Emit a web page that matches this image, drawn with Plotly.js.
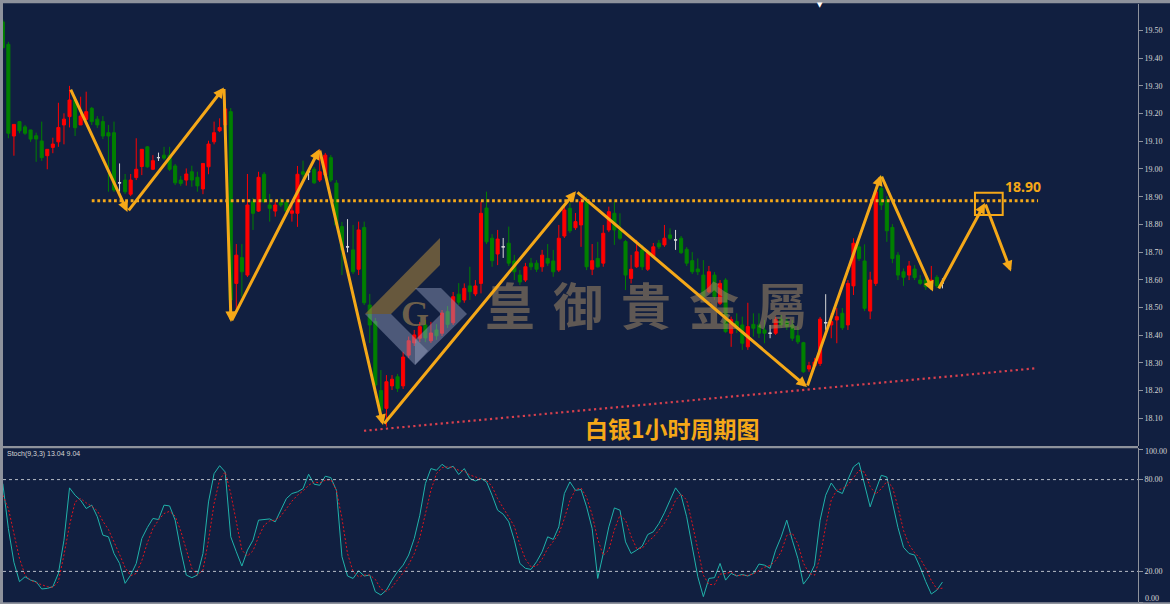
<!DOCTYPE html>
<html><head><meta charset="utf-8">
<script src="https://cdn.plot.ly/plotly-3.0.1.min.js"></script>
<style>html,body{margin:0;padding:0;background:#111f40;overflow:hidden}#chart{width:1170px;height:604px}</style>
</head><body><div id="chart"></div>
<script>
// ---------- DATA (silver, 1 hour bars) ----------
const openP = [19.531,19.450,19.119,19.171,19.152,19.141,19.120,19.101,19.048,19.078,19.098,19.159,19.189,19.249,19.159,19.179,19.219,19.180,19.171,19.131,
19.131,18.950,18.960,18.909,18.969,19.009,19.080,18.999,19.041,19.050,19.050,19.011,18.960,18.960,18.990,18.970,18.928,19.008,19.098,19.138,
19.159,19.207,18.587,18.680,18.617,18.882,18.848,18.981,18.870,18.848,18.880,18.880,18.840,18.840,18.990,18.990,18.999,18.960,18.978,19.041,
18.949,18.792,18.719,18.708,18.638,18.789,18.509,18.449,18.200,18.136,18.217,18.250,18.217,18.328,18.372,18.389,18.437,18.380,18.419,18.407,
18.485,18.445,18.548,18.527,18.578,18.549,18.587,18.859,18.750,18.693,18.719,18.732,18.668,18.617,18.599,18.660,18.660,18.647,18.677,18.668,
18.635,18.758,18.858,18.788,18.798,18.882,18.638,18.677,18.660,18.780,18.840,18.780,18.738,18.605,18.647,18.708,18.638,18.683,18.732,18.726,
18.762,18.744,18.750,18.710,18.669,18.639,18.617,18.557,18.617,18.515,18.599,18.407,18.449,18.437,18.358,18.439,18.437,18.419,18.407,18.407,
18.457,18.449,18.437,18.398,18.373,18.278,18.289,18.298,18.445,18.437,18.455,18.479,18.437,18.578,18.719,18.668,18.487,18.587,18.930,18.888,
18.789,18.689,18.629,18.617,18.639,18.599,18.599,18.587,18.609,18.589];
const highP = [19.540,19.459,19.161,19.172,19.159,19.141,19.131,19.171,19.071,19.113,19.239,19.201,19.300,19.261,19.261,19.279,19.224,19.191,19.191,19.159,
19.171,19.020,18.982,18.982,19.111,19.072,19.083,19.050,19.059,19.080,19.080,19.018,18.975,19.002,19.012,18.990,19.020,19.102,19.171,19.183,
19.249,19.220,18.729,18.729,18.982,18.895,18.990,18.989,18.910,18.881,18.894,18.888,18.870,19.011,19.030,18.996,19.007,19.071,19.058,19.050,
18.960,18.809,18.819,18.798,18.810,18.810,18.549,18.462,18.274,18.256,18.256,18.260,18.340,18.395,18.419,18.448,18.455,18.448,18.440,18.491,
18.505,18.556,18.588,18.587,18.647,18.599,18.882,18.918,18.765,18.780,18.751,18.792,18.690,18.635,18.661,18.679,18.671,18.708,18.729,18.708,
18.798,18.870,18.877,18.841,18.895,18.900,18.729,18.737,18.798,18.864,18.882,18.840,18.744,18.690,18.744,18.726,18.708,18.733,18.744,18.798,
18.786,18.780,18.758,18.718,18.700,18.677,18.671,18.650,18.628,18.599,18.606,18.467,18.479,18.467,18.517,18.479,18.479,18.455,18.437,18.467,
18.473,18.462,18.455,18.431,18.376,18.304,18.318,18.466,18.548,18.480,18.498,18.498,18.599,18.750,18.737,18.728,18.629,18.931,18.975,18.902,
18.801,18.700,18.641,18.668,18.653,18.617,18.617,18.650,18.617,18.605];
const lowP = [19.435,19.111,19.048,19.129,19.123,19.098,19.026,19.029,18.999,19.057,19.080,19.089,19.150,19.119,19.159,19.177,19.159,19.148,19.108,18.918,
18.917,18.918,18.910,18.902,18.960,18.978,19.004,18.996,19.029,19.032,18.993,18.942,18.939,18.940,18.936,18.918,18.909,18.981,19.089,19.133,
19.148,18.462,18.491,18.539,18.610,18.780,18.845,18.877,18.810,18.828,18.863,18.841,18.810,18.791,18.967,18.960,18.946,18.953,18.967,18.953,
18.787,18.617,18.699,18.621,18.617,18.509,18.372,18.205,18.101,18.070,18.202,18.195,18.206,18.318,18.361,18.375,18.375,18.372,18.383,18.397,
18.426,18.437,18.509,18.517,18.527,18.541,18.551,18.729,18.647,18.653,18.679,18.650,18.599,18.581,18.592,18.635,18.628,18.629,18.650,18.611,
18.628,18.751,18.769,18.780,18.719,18.635,18.617,18.643,18.647,18.772,18.726,18.744,18.563,18.587,18.643,18.635,18.632,18.679,18.711,18.719,
18.744,18.708,18.693,18.650,18.621,18.617,18.534,18.552,18.527,18.509,18.408,18.358,18.408,18.347,18.347,18.395,18.390,18.371,18.389,18.401,
18.426,18.419,18.379,18.368,18.264,18.268,18.282,18.289,18.419,18.389,18.371,18.419,18.419,18.545,18.668,18.487,18.458,18.578,18.852,18.737,
18.660,18.599,18.578,18.599,18.599,18.581,18.563,18.563,18.570,18.569];
const closeP = [19.438,19.129,19.161,19.138,19.129,19.108,19.108,19.041,19.071,19.090,19.150,19.180,19.249,19.149,19.191,19.207,19.171,19.159,19.119,19.119,
18.924,18.950,18.918,18.960,18.999,19.071,19.008,19.030,19.041,19.039,18.999,18.950,18.948,18.982,18.960,18.939,19.020,19.090,19.131,19.150,
19.217,18.527,18.689,18.629,18.870,18.840,18.970,18.882,18.858,18.870,18.870,18.848,18.849,18.981,18.981,18.990,18.950,18.990,19.050,18.960,
18.798,18.708,18.719,18.629,18.780,18.517,18.437,18.220,18.130,18.232,18.241,18.208,18.321,18.380,18.401,18.431,18.390,18.408,18.398,18.480,
18.439,18.539,18.519,18.569,18.557,18.578,18.840,18.737,18.669,18.747,18.719,18.660,18.629,18.592,18.647,18.647,18.638,18.689,18.660,18.629,
18.750,18.852,18.777,18.810,18.882,18.647,18.669,18.647,18.768,18.846,18.780,18.750,18.617,18.638,18.701,18.647,18.696,18.719,18.719,18.750,
18.750,18.744,18.698,18.660,18.629,18.629,18.539,18.629,18.539,18.587,18.413,18.457,18.425,18.371,18.431,18.425,18.407,18.407,18.407,18.457,
18.437,18.431,18.389,18.376,18.268,18.290,18.303,18.458,18.445,18.449,18.467,18.427,18.587,18.732,18.677,18.497,18.599,18.918,18.870,18.777,
18.677,18.617,18.609,18.650,18.608,18.587,18.575,18.599,18.578,18.589];
// Stochastic (9,3,3): %K main line and %D signal line
const stochK = [77.4,48,26,13.3,16.5,14.3,13.3,8.5,8.9,10,18.7,40.4,74.6,69.8,66.5,61.1,63.3,55.7,43.7,42.6,
31.7,25.2,12.2,17.6,25.2,41.5,48.7,54.6,53.9,63.3,62.8,53.5,33.9,17.6,15.9,17.6,31.7,65.4,83.9,89.1,
85,42.6,32.8,23.5,33.9,40.4,53.5,54.1,54.3,52.4,60,67.6,70.9,72,74.1,83.5,77,76.3,82.2,81.3,
73,29.6,17,15.4,20.4,17,17.6,6.7,4.6,7.8,14.3,19.8,24.1,30.7,41.5,56.7,77.4,87.2,86.1,90,
87.2,88.7,83.3,87.2,80.7,79.1,80.7,78.5,69.8,60,57.4,52.4,40.4,25.2,22,21.3,26.3,32.8,42.6,40.9,
49.1,70.9,78.5,73,73.5,62.2,48,15.4,31.7,49.1,61.5,60,39.3,31.7,33.9,36.5,44.1,45.9,51.3,58.3,
66.5,74.6,69.8,55.7,36.1,16.5,3.5,15.4,15.9,25.2,14.3,18.7,17,18,17,18.7,24.8,24.1,22,33.9,
42.6,53.5,40.4,28.5,11.7,16.5,24.1,53.5,69.8,77.8,72.6,70.9,80,88.3,91.1,77.4,62.2,73,82.8,81.7,
65.4,48.7,35.7,31.7,30.7,22.6,13.3,5.2,7.8,13.04];
const stochD = [69.8,61.1,44.8,28.5,17.6,14.3,12.6,11.1,10,9.6,13.3,30.7,50.2,65.4,67.6,64.8,62.6,59.6,52.8,47.4,
39.8,31.1,22.4,17.2,18.7,27,38.7,48,53.5,57.8,59.3,56.1,46.5,33.5,22,17.6,20.9,40.4,64.3,80,
85,70.9,51.3,33.9,30,33.5,42.6,50.2,53,53.5,56.1,61.1,65.9,69.8,72.6,76.3,78.5,77.8,79.6,80,
73,54.6,31.7,19.8,16.5,17.6,17.6,14.8,8.5,7,9.5,14.5,19,24.5,31.5,42,56.7,73,83.9,87.8,
88.3,88,86.1,85.5,83,81.5,80.5,79.5,75.5,67.5,61.5,56,49.5,37.5,28,23,23.5,28,35,39.5,
44.5,54.5,66.3,73.5,74.5,68.5,57,41,30.5,34,47.2,56.8,53.5,43,35,35,39.5,42.4,47,51.5,
58.2,66.5,70.6,66.6,51.5,34,17.5,11.5,11.3,18.2,18.6,19.6,17.2,17.5,17.4,18.3,20.5,22.8,23.8,27,
32.8,43.5,45,38,25.5,18.8,17.5,29.5,49.6,66.7,73.2,74,76.5,81.3,86,84.8,75.5,70.5,74,78.8,
75.3,62,46.8,37.4,32.2,28.4,22.1,14,8.5,9.04];
const priceTicks = [18.10,18.20,18.30,18.40,18.50,18.60,18.70,18.80,18.90,19.00,19.10,19.20,19.30,19.40,19.50];
const stochTicks = [0,20,80,100];
const stochLevels = [20,80];
const timeTicks = [8,16,24,32,40,48,56,64,72,80,88,96,104,112,120,128,136,144,152,160,168,176,184,192,200];
// hand-drawn analysis (bar index, price)
const resistancePrice = 18.885, resistanceLabel = '18.90';
const resistanceFrom = 16.0, resistanceTo = 186.2;
const supportIdx = [64.96, 186.1], supportPrice = [18.055, 18.281];
const zigIdx   = [12.09, 22.43, 39.78, 41.04, 56.96, 68.38, 103.09, 144.64, 157.95, 167.30, null, 168.2, 176.65, 181.33];
const zigPrice = [19.292, 18.845, 19.294, 18.448, 19.072, 18.076, 18.920, 18.213, 18.978, 18.558, null, 18.563, 18.877, 18.630];
const targetBoxIdx = [174.85, 179.84], targetBoxPrice = [18.834, 18.914];
const chartTitle = '白银1小时周期图';
const watermarkChars = ['皇','御','貴','金','屬'];

// ---------- STYLE ----------
const BG = '#111f40', UP = '#ff0000', DOWN = '#008000', DOJI = '#d8d8d8';
const ORANGE = '#f5a818', FRAME = '#8e929c', TXT = '#d6d6d6';
const L = 3, R = 1138, T = 4, B = 602;
const px = v => (v - L) / (R - L);
const py = v => (B - v) / (B - T);
const xr = [(L - 2.8) / 5.56, (R - 2.8) / 5.56];

const idx = closeP.map((_, i) => i);
function pick(cond) {
  const s = {x: [], open: [], high: [], low: [], close: []};
  idx.forEach(i => { if (cond(openP[i], closeP[i])) {
    s.x.push(i); s.open.push(openP[i]); s.high.push(highP[i]); s.low.push(lowP[i]); s.close.push(closeP[i]); }});
  return s;
}
function candle(s, col) {
  return Object.assign({type: 'candlestick', xaxis: 'x', yaxis: 'y', hoverinfo: 'skip', whiskerwidth: 0,
    increasing: {line: {color: col, width: 1}, fillcolor: col},
    decreasing: {line: {color: col, width: 1}, fillcolor: col}}, s);
}
const traces = [
  candle(pick((o, c) => c > o), UP),
  candle(pick((o, c) => c < o), DOWN),
  candle(pick((o, c) => c === o), DOJI),
  {type: 'scatter', mode: 'lines', x: idx, y: stochK, xaxis: 'x2', yaxis: 'y2', hoverinfo: 'skip',
   line: {color: '#20b2aa', width: 1}},
  {type: 'scatter', mode: 'lines', x: idx, y: stochD, xaxis: 'x2', yaxis: 'y2', hoverinfo: 'skip',
   line: {color: '#e0141e', width: 1, dash: '2px,2px'}}
];

function poly(pts) { return 'M' + pts.map(p => px(p[0]) + ',' + py(p[1])).join('L') + 'Z'; }
const shapes = [
  // frame
  {type: 'rect', xref: 'paper', yref: 'paper', x0: px(0), x1: px(1170), y0: py(0), y1: py(3.2), fillcolor: FRAME, line: {width: 0}},
  {type: 'rect', xref: 'paper', yref: 'paper', x0: px(0), x1: px(3), y0: py(0), y1: py(604), fillcolor: FRAME, line: {width: 0}},
  {type: 'rect', xref: 'paper', yref: 'paper', x0: px(0), x1: px(1138), y0: py(446), y1: py(448.3), fillcolor: FRAME, line: {width: 0}},
  {type: 'rect', xref: 'paper', yref: 'paper', x0: px(0), x1: px(1170), y0: py(602.3), y1: py(604), fillcolor: FRAME, line: {width: 0}},
  // stochastic levels
  ...stochLevels.map(v => ({type: 'line', xref: 'paper', yref: 'y2', x0: 0, x1: 1, y0: v, y1: v,
    line: {color: '#b8bcc6', width: 1, dash: '3px,3px'}})),
  // resistance 18.90
  {type: 'line', xref: 'x', yref: 'y', x0: resistanceFrom, x1: resistanceTo, y0: resistancePrice, y1: resistancePrice,
   line: {color: ORANGE, width: 3, dash: '2.8px,2.76px'}},
  // rising support
  {type: 'line', xref: 'x', yref: 'y', x0: supportIdx[0], x1: supportIdx[1], y0: supportPrice[0], y1: supportPrice[1],
   line: {color: '#d8404e', width: 2.2, dash: '2.2px,3.3px'}},
  // target box
  {type: 'rect', xref: 'x', yref: 'y', x0: targetBoxIdx[0], x1: targetBoxIdx[1], y0: targetBoxPrice[0], y1: targetBoxPrice[1],
   line: {color: ORANGE, width: 2}},
  // logo
  {type: 'path', xref: 'paper', yref: 'paper', path: poly([[440,238],[440,265],[391,314],[365,314]]),
   fillcolor: 'rgba(150,120,60,0.65)', line: {width: 0}},
  {type: 'path', xref: 'paper', yref: 'paper', path: poly([[365,314],[391,314],[428,351],[415,365]]),
   fillcolor: 'rgba(150,160,190,0.45)', line: {width: 0}},
  {type: 'path', xref: 'paper', yref: 'paper', path: poly([[415,288],[441,288],[467,314],[415,365],[415,340],[441,314]]),
   fillcolor: 'rgba(150,160,190,0.45)', line: {width: 0}}
];

const annotations = [];
watermarkChars.forEach((ch, k) => annotations.push({xref: 'paper', yref: 'paper', x: px(510 + k * 68), y: py(303),
  text: ch, showarrow: false, xanchor: 'center', yanchor: 'middle',
  font: {family: 'Noto Sans CJK TC', size: 50, weight: 700, color: 'rgba(160,135,100,0.55)'}}));
annotations.push({xref: 'paper', yref: 'paper', x: px(415), y: py(314), text: '<b>G</b>', showarrow: false,
  xanchor: 'center', yanchor: 'middle', font: {family: 'Liberation Serif', size: 36, color: 'rgba(150,125,80,0.7)'}});
for (let k = 1; k < zigIdx.length; k++) {
  if (zigIdx[k] == null || zigIdx[k - 1] == null) continue;
  annotations.push({xref: 'x', yref: 'y', axref: 'x', ayref: 'y', x: zigIdx[k], y: zigPrice[k],
    ax: zigIdx[k - 1], ay: zigPrice[k - 1], text: '', showarrow: true, arrowhead: 2, arrowsize: 0.7,
    arrowwidth: 3, arrowcolor: ORANGE, standoff: 0, startstandoff: 0});
}
annotations.push({xref: 'x', yref: 'y', x: 183.5, y: 18.935, text: '<b>' + resistanceLabel + '</b>', showarrow: false,
  font: {family: 'Noto Sans', size: 14, color: ORANGE}});
annotations.push({xref: 'x', yref: 'y', x: 120.5, y: 18.064, text: '<b>' + chartTitle + '</b>', showarrow: false,
  font: {family: 'Noto Sans CJK SC', size: 23, color: ORANGE}});
annotations.push({xref: 'paper', yref: 'paper', x: px(5), y: py(454), xanchor: 'left', yanchor: 'middle', showarrow: false,
  text: 'Stoch(9,3,3) ' + stochK[stochK.length - 1].toFixed(2) + ' ' + stochD[stochD.length - 1].toFixed(2),
  font: {family: 'Liberation Sans', size: 7, color: TXT}});
annotations.push({xref: 'paper', yref: 'paper', x: px(820), y: py(5), xanchor: 'center', yanchor: 'middle', showarrow: false,
  text: '▼', font: {family: 'DejaVu Sans', size: 7, color: '#ffffff'}});
// end labels of the oscillator scale are pulled inside the panel, as in the terminal
[[100, 451.5], [0, 598.5]].forEach(([v, yPix]) => annotations.push({xref: 'paper', yref: 'paper', x: px(1143), y: py(yPix),
  xanchor: 'left', yanchor: 'middle', showarrow: false, text: v.toFixed(2),
  font: {family: 'Liberation Serif', size: 8, color: TXT}}));

const axBase = {showgrid: false, zeroline: false, fixedrange: true};
const layout = {
  width: 1170, height: 604, margin: {l: L, r: 1170 - R, t: T, b: 604 - B}, showlegend: false,
  paper_bgcolor: BG, plot_bgcolor: BG, boxgap: 0.45, boxgroupgap: 0,
  xaxis: Object.assign({}, axBase, {domain: [0, 1], range: xr, anchor: 'y', showticklabels: false, ticks: '',
    rangeslider: {visible: false}}),
  xaxis2: Object.assign({}, axBase, {domain: [0, 1], range: xr, anchor: 'y2', showticklabels: false, ticks: 'outside',
    ticklen: 2, tickcolor: '#e0e0e0', tickvals: timeTicks}),
  yaxis: Object.assign({}, axBase, {domain: [py(446), 1], range: [18.0, 19.5956], side: 'right', anchor: 'x',
    tickvals: priceTicks, ticktext: priceTicks.map(v => v.toFixed(2)), ticks: 'outside', ticklen: 4, tickcolor: FRAME,
    tickfont: {family: 'Liberation Serif', size: 8, color: TXT}, showline: true, linecolor: FRAME, linewidth: 1}),
  yaxis2: Object.assign({}, axBase, {domain: [0, py(448.3)], range: [0, 100.46], side: 'right', anchor: 'x2',
    tickvals: stochTicks, ticktext: stochTicks.map(v => (v === 0 || v === 100) ? '' : v.toFixed(2)), ticks: 'outside',
    ticklen: 4, tickcolor: FRAME,
    tickfont: {family: 'Liberation Serif', size: 8, color: TXT}, showline: true, linecolor: FRAME, linewidth: 1}),
  shapes: shapes, annotations: annotations
};
Plotly.newPlot('chart', traces, layout, {staticPlot: true, displayModeBar: false});
</script></body></html>
